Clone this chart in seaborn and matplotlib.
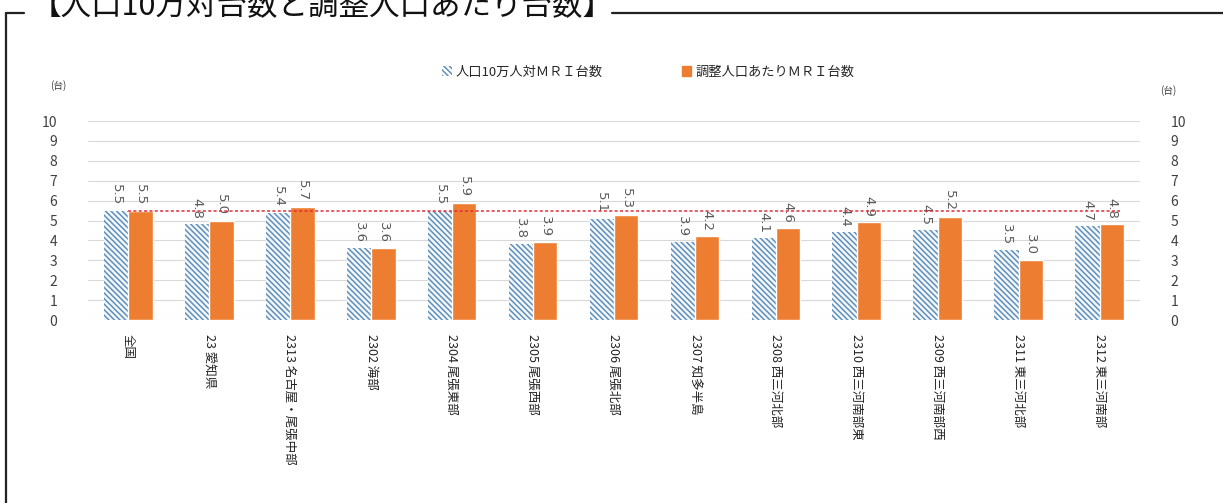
import numpy as np
import pandas as pd
import matplotlib
matplotlib.use("Agg")
from matplotlib import pyplot as plt
from matplotlib.lines import Line2D
from matplotlib.patches import Patch
import seaborn as sns

sns.set_style("white")
plt.rcParams['font.family'] = ['Noto Sans CJK JP', 'DejaVu Sans']
plt.rcParams['hatch.linewidth'] = 1.1

# data
areas = ["全国", "23 愛知県", "2313 名古屋・尾張中部", "2302 海部", "2304 尾張東部",
         "2305 尾張西部", "2306 尾張北部", "2307 知多半島", "2308 西三河北部",
         "2310 西三河南部東", "2309 西三河南部西", "2311 東三河北部", "2312 東三河南部"]
per100k = [5.5, 4.8, 5.4, 3.6, 5.5, 3.8, 5.1, 3.9, 4.1, 4.4, 4.5, 3.5, 4.7]
adjusted = [5.5, 5.0, 5.7, 3.6, 5.9, 3.9, 5.3, 4.2, 4.6, 4.9, 5.2, 3.0, 4.8]
series_names = ["人口10万人対ＭＲＩ台数", "調整人口あたりＭＲＩ台数"]
yticks = list(range(0, 11))
title = "【人口10万対台数と調整人口あたり台数】"

blue = "#5F8FBA"
orange = "#ED7D31"
hatch = "\\\\\\\\\\\\"

df = pd.DataFrame({
    "area": areas * 2,
    "value": per100k + adjusted,
    "series": [series_names[0]] * len(areas) + [series_names[1]] * len(areas),
})

W, H = 1223, 503
fig = plt.figure(figsize=(W / 100, H / 100), dpi=100)
ax = fig.add_axes([88 / W, (H - 320) / H, 1052 / W, 199 / H])

sns.barplot(data=df, x="area", y="value", hue="series", hue_order=series_names,
            palette=[blue, orange], width=0.6, saturation=1, legend=False, ax=ax)

# hatched blue bars
for p in ax.containers[0]:
    p.set_facecolor("#F4F8FC")
    p.set_edgecolor(blue)
    p.set_hatch(hatch)
    p.set_linewidth(0)

for cont in ax.containers:
    ax.bar_label(cont, fmt="%.1f", rotation=-90, padding=4, fontsize=9.5,
                 color="#595959", family=['DejaVu Sans'])

# national reference line
ax.hlines(adjusted[0], 0, len(areas) - 0.75, colors="#E0303A", linestyles=(0, (2, 1.5)),
          linewidth=1.1, zorder=5)

ax.set_ylim(0, 10)
ax.set_xlim(-0.5, len(areas) - 0.5)
ax.set_yticks(yticks)
ax.yaxis.grid(True, color="#D9D9D9", linewidth=0.8)
ax.set_axisbelow(True)
for s in ax.spines.values():
    s.set_visible(False)
ax.set_xlabel("")
ax.set_ylabel("")
ax.tick_params(axis="y", length=0, pad=22, labelsize=10, labelcolor="#404040")
ax.tick_params(axis="x", length=0, pad=10)
ax.set_xticks(range(len(areas)))
ax.set_xticklabels(areas, rotation=-90, va="top", ha="center", fontsize=9, color="#222222")

ax2 = ax.twinx()
ax2.set_ylim(0, 10)
ax2.set_yticks(yticks)
for s in ax2.spines.values():
    s.set_visible(False)
ax2.tick_params(axis="y", length=0, pad=22, labelsize=10, labelcolor="#404040")

fig.text(58 / W, 1 - 86 / H, "(台)", fontsize=7, ha="center", va="center", color="#404040")
fig.text(1168 / W, 1 - 91 / H, "(台)", fontsize=7, ha="center", va="center", color="#404040")

handles = [Patch(facecolor="white", edgecolor=blue, hatch=hatch, linewidth=0),
           Patch(facecolor=orange, edgecolor=orange)]
fig.legend(handles, series_names, loc="center", bbox_to_anchor=(0.53, 1 - 72 / H),
           ncol=2, frameon=False, fontsize=9.5, handlelength=0.7, handleheight=0.7,
           handletextpad=0.3, columnspacing=6)

# outer frame with title
frame_kw = dict(color="#222222", linewidth=1.6, transform=fig.transFigure)
fig.add_artist(Line2D([5.5 / W, 5.5 / W], [0, 1 - 13 / H], **frame_kw))
fig.add_artist(Line2D([5.5 / W, 24 / W], [1 - 13 / H, 1 - 13 / H], **frame_kw))
fig.add_artist(Line2D([612 / W, 1], [1 - 13 / H, 1 - 13 / H], **frame_kw))
fig.text(322 / W, 1 - 15 / H, title, fontsize=22, ha="center", va="baseline", color="#111111")

fig.savefig("out.png", dpi=100)
